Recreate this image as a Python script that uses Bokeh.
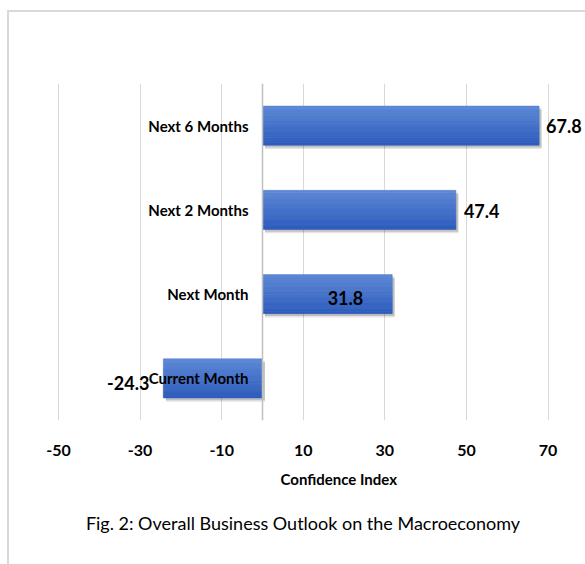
from bokeh.plotting import figure
from bokeh.models import ColumnDataSource, FactorRange, Range1d, FixedTicker, Title, PrintfTickFormatter
from bokeh.transform import dodge
from bokeh.core.properties import value
from bokeh.embed import file_html
from bokeh.resources import INLINE

# ---- data ----
categories = ["Current Month", "Next Month", "Next 2 Months", "Next 6 Months"]
values = [-24.3, 31.8, 47.4, 67.8]
x_ticks = [-50, -30, -10, 10, 30, 50, 70]
x_label = "Confidence Index"
title_text = "Fig. 2: Overall Business Outlook on the Macroeconomy"

# label placement (style, not data)
label_dx = [-14, -29, 8, 7]
label_dy = [5, 4, 1, 0]
label_align = ["right", "right", "left", "left"]

FONT = "Lato"

p = figure(
    width=585, height=564,
    y_range=FactorRange(factors=categories, range_padding=0),
    x_range=Range1d(-59.31, 79.17),
    output_backend="svg", toolbar_location=None, title=None,
    min_border_left=20, min_border_right=0, min_border_top=83, min_border_bottom=144,
)
p.styles = {"box-shadow": "inset 0 10px 0 0 #ffffff, inset 7px 0 0 0 #ffffff, "
                          "inset 0 12px 0 0 #d9d9d9, inset 9px 0 0 0 #d9d9d9"}
p.border_fill_alpha = 0
p.background_fill_color = "#ffffff"
p.outline_line_color = None

src = ColumnDataSource(dict(
    cat=categories, val=values,
    left=[min(0, v) for v in values], right=[max(0, v) for v in values],
    sh_left=[min(0, v) + 0.6 for v in values], sh_right=[max(0, v) + 0.6 for v in values],
    lbl=[f"{v}" for v in values], dx=label_dx, dy=label_dy, align=label_align,
))

H = 0.463
# soft shadow
p.hbar(y=dodge("cat", -0.045, range=p.y_range), left="sh_left", right="sh_right", height=H,
       source=src, fill_color="#000000", fill_alpha=0.10, line_color=None)
p.hbar(y=dodge("cat", -0.028, range=p.y_range), left="sh_left", right="sh_right", height=H,
       source=src, fill_color="#000000", fill_alpha=0.16, line_color=None)

# gradient bars built from strips
top = (0x5C, 0x87, 0xD5)
bot = (0x2E, 0x5D, 0xBE)
n = 16
for i in range(n):
    t = i / (n - 1)
    c = tuple(int(round(top[k] + (bot[k] - top[k]) * t)) for k in range(3))
    col = "#%02x%02x%02x" % c
    off = H / 2 - (i + 0.5) * H / n
    p.hbar(y=dodge("cat", off, range=p.y_range), left="left", right="right", height=H / n,
           source=src, fill_color=col, line_color=col, line_width=0.6)

# value labels
p.text(x="val", y="cat", text="lbl", x_offset="dx", y_offset="dy", text_align="align",
       text_baseline="middle", source=src, text_font_size="18px", text_font_style="bold",
       text_color="#000000", text_font=value(FONT))

# x axis / grid
p.xaxis.ticker = FixedTicker(ticks=x_ticks)
p.xaxis.formatter = PrintfTickFormatter(format="%d")
p.xgrid.ticker = FixedTicker(ticks=x_ticks)
p.xgrid.grid_line_color = "#d9d9d9"
p.xgrid.grid_line_width = 1
p.ygrid.grid_line_color = None
p.xaxis.axis_line_color = None
p.xaxis.major_tick_line_color = None
p.xaxis.major_tick_out = 0
p.xaxis.major_tick_in = 0
p.xaxis.minor_tick_line_color = None
p.xaxis.major_label_standoff = 24
p.xaxis.major_label_text_font = FONT
p.xaxis.major_label_text_font_size = "16px"
p.xaxis.major_label_text_font_style = "bold"
p.xaxis.major_label_text_color = "#000000"

# y axis at zero
p.yaxis.fixed_location = 0
p.yaxis.axis_line_color = "#bfbfbf"
p.yaxis.axis_line_width = 1.5
p.yaxis.major_tick_line_color = None
p.yaxis.major_tick_out = 0
p.yaxis.major_tick_in = 0
p.yaxis.minor_tick_line_color = None
p.yaxis.major_label_standoff = 14
p.yaxis.major_label_text_font = FONT
p.yaxis.major_label_text_font_size = "15px"
p.yaxis.major_label_text_font_style = "bold"
p.yaxis.major_label_text_color = "#000000"

t1 = Title(text=x_label, align="left", offset=260, text_font=FONT, text_font_size="15px",
           text_font_style="bold", text_color="#000000", standoff=19)
t2 = Title(text=title_text, align="center", text_font=FONT, text_font_size="18px",
           text_font_style="normal", text_color="#000000", standoff=25)
p.add_layout(t1, "below")
p.add_layout(t2, "below")

open("out.html", "w").write(file_html(p, INLINE))
